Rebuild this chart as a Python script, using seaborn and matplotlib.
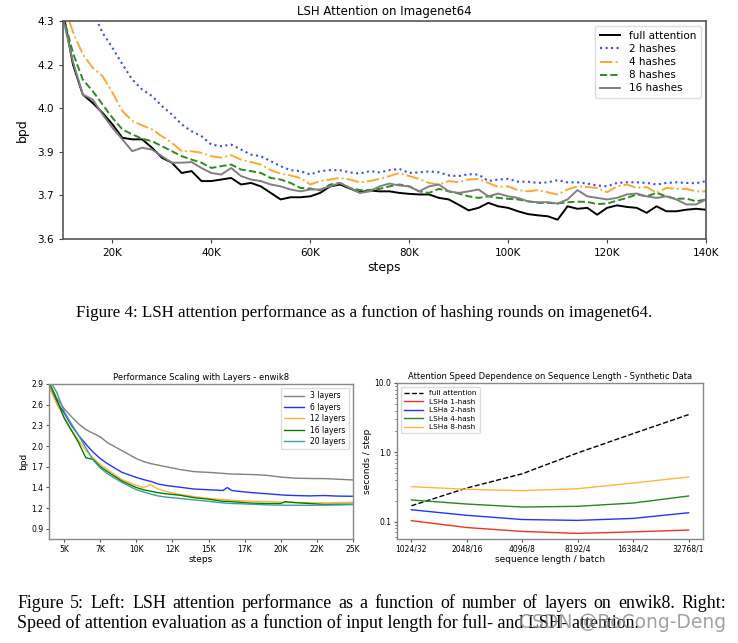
import numpy as np
import pandas as pd
import matplotlib
matplotlib.use('Agg')
import matplotlib.pyplot as plt
import matplotlib.ticker as mticker
import seaborn as sns

# ---- Figure 4 : LSH attention on imagenet64 (bpd vs steps) ----
img_steps = np.arange(10000, 140001, 2000)
img_full = [4.33, 4.161, 4.064, 4.037, 4.005, 3.968, 3.925, 3.920, 3.920, 3.893, 3.861, 3.845, 3.812,
            3.818, 3.786, 3.786, 3.791, 3.796, 3.775, 3.780, 3.769, 3.748, 3.727, 3.734, 3.734, 3.737,
            3.748, 3.769, 3.775, 3.762, 3.750, 3.756, 3.753, 3.753, 3.748, 3.745, 3.743, 3.743, 3.732,
            3.727, 3.710, 3.692, 3.700, 3.716, 3.705, 3.700, 3.689, 3.680, 3.676, 3.673, 3.662, 3.705,
            3.697, 3.700, 3.678, 3.700, 3.708, 3.703, 3.700, 3.684, 3.705, 3.689, 3.689, 3.694, 3.697, 3.694]
img_2h = [4.60, 4.48, 4.40, 4.33, 4.262, 4.214, 4.161, 4.112, 4.080, 4.059, 4.027, 4.000, 3.968,
          3.946, 3.930, 3.903, 3.898, 3.903, 3.887, 3.871, 3.866, 3.850, 3.834, 3.821, 3.818, 3.807,
          3.818, 3.821, 3.821, 3.814, 3.810, 3.818, 3.814, 3.821, 3.825, 3.812, 3.814, 3.817, 3.814,
          3.804, 3.802, 3.808, 3.807, 3.786, 3.791, 3.793, 3.784, 3.784, 3.780, 3.782, 3.789, 3.782,
          3.782, 3.778, 3.772, 3.769, 3.780, 3.782, 3.782, 3.780, 3.775, 3.780, 3.782, 3.780, 3.779, 3.786]
img_4h = [4.36, 4.265, 4.193, 4.150, 4.123, 4.070, 4.011, 3.979, 3.965, 3.952, 3.930, 3.909, 3.882,
          3.882, 3.877, 3.866, 3.861, 3.869, 3.855, 3.847, 3.839, 3.821, 3.810, 3.804, 3.796, 3.775,
          3.786, 3.791, 3.796, 3.791, 3.782, 3.786, 3.793, 3.802, 3.812, 3.802, 3.793, 3.780, 3.775,
          3.786, 3.782, 3.791, 3.793, 3.780, 3.767, 3.769, 3.757, 3.753, 3.757, 3.750, 3.743, 3.759,
          3.769, 3.767, 3.764, 3.750, 3.769, 3.775, 3.764, 3.767, 3.748, 3.764, 3.761, 3.761, 3.753, 3.753]
img_8h = [4.32, 4.198, 4.112, 4.075, 4.032, 3.989, 3.952, 3.936, 3.922, 3.914, 3.898, 3.882, 3.866,
          3.855, 3.845, 3.828, 3.834, 3.839, 3.823, 3.818, 3.812, 3.796, 3.791, 3.780, 3.764, 3.762,
          3.756, 3.775, 3.780, 3.764, 3.757, 3.757, 3.761, 3.769, 3.775, 3.769, 3.753, 3.748, 3.761,
          3.753, 3.746, 3.737, 3.732, 3.737, 3.732, 3.729, 3.727, 3.721, 3.716, 3.716, 3.714, 3.718,
          3.720, 3.719, 3.712, 3.714, 3.723, 3.732, 3.743, 3.737, 3.748, 3.737, 3.729, 3.730, 3.721, 3.727]
img_16h = [4.31, 4.17, 4.064, 4.048, 4.000, 3.957, 3.920, 3.882, 3.893, 3.887, 3.866, 3.845, 3.845,
           3.847, 3.828, 3.812, 3.807, 3.828, 3.802, 3.791, 3.786, 3.775, 3.769, 3.759, 3.753, 3.759,
           3.759, 3.769, 3.780, 3.764, 3.748, 3.753, 3.769, 3.778, 3.772, 3.769, 3.753, 3.769, 3.775,
           3.753, 3.748, 3.753, 3.759, 3.737, 3.746, 3.737, 3.732, 3.721, 3.718, 3.718, 3.714, 3.727,
           3.757, 3.737, 3.732, 3.727, 3.732, 3.743, 3.746, 3.737, 3.732, 3.737, 3.727, 3.711, 3.711, 3.727]

# ---- Figure 5 left : enwik8, number of layers ----
enw_steps = [4000, 4500, 5000, 5500, 6000, 6500, 7000, 7500, 8000, 9000, 10000, 10500, 11000, 11500,
             12000, 13000, 14000, 15000, 16000, 16300, 16600, 17000, 18000, 19000, 20000, 20300, 21000,
             22000, 23000, 24000, 25000]
enw_3 = [2.90, 2.70, 2.56, 2.45, 2.35, 2.27, 2.22, 2.17, 2.09, 1.98, 1.87, 1.83, 1.80, 1.78, 1.76, 1.72,
         1.69, 1.68, 1.666, 1.66, 1.657, 1.655, 1.65, 1.64, 1.615, 1.61, 1.60, 1.595, 1.594, 1.585, 1.575]
enw_6 = [2.84, 2.65, 2.50, 2.33, 2.19, 2.07, 1.96, 1.87, 1.80, 1.68, 1.61, 1.58, 1.555, 1.52, 1.50, 1.475,
         1.45, 1.44, 1.43, 1.47, 1.43, 1.42, 1.40, 1.385, 1.37, 1.365, 1.36, 1.355, 1.36, 1.352, 1.35]
enw_12 = [2.84, 2.62, 2.44, 2.27, 2.12, 1.98, 1.88, 1.79, 1.72, 1.58, 1.50, 1.47, 1.51, 1.45, 1.42, 1.375,
          1.345, 1.32, 1.305, 1.30, 1.295, 1.29, 1.282, 1.278, 1.27, 1.268, 1.265, 1.26, 1.258, 1.262, 1.267]
enw_16 = [2.90, 2.68, 2.43, 2.26, 2.09, 1.88, 1.86, 1.76, 1.69, 1.56, 1.47, 1.44, 1.42, 1.40, 1.385, 1.365,
          1.33, 1.31, 1.28, 1.28, 1.275, 1.27, 1.255, 1.25, 1.25, 1.275, 1.262, 1.25, 1.237, 1.24, 1.24]
enw_20 = [2.95, 2.78, 2.52, 2.35, 2.19, 2.02, 1.85, 1.74, 1.66, 1.54, 1.44, 1.41, 1.38, 1.355, 1.34, 1.32,
          1.30, 1.28, 1.258, 1.255, 1.25, 1.248, 1.24, 1.232, 1.228, 1.226, 1.226, 1.225, 1.228, 1.23, 1.235]
enw_yticklabels = ['0.9', '1.2', '1.4', '1.7', '2.0', '2.3', '2.6', '2.9']

# ---- Figure 5 right : speed vs sequence length ----
seq_labels = ['1024/32', '2048/16', '4096/8', '8192/4', '16384/2', '32768/1']
speed_full = [0.169, 0.305, 0.49, 0.98, 1.86, 3.5]
speed_1h = [0.103, 0.082, 0.072, 0.0675, 0.071, 0.0754]
speed_2h = [0.148, 0.123, 0.107, 0.104, 0.111, 0.134]
speed_4h = [0.205, 0.179, 0.162, 0.166, 0.185, 0.234]
speed_8h = [0.319, 0.292, 0.279, 0.298, 0.36, 0.44]

cap4 = 'Figure 4: LSH attention performance as a function of hashing rounds on imagenet64.'
cap5_line1 = 'Figure 5: Left: LSH attention performance as a function of number of layers on enwik8. Right:'
cap5_line2 = 'Speed of attention evaluation as a function of input length for full- and LSH- attention.'
watermark = 'CSDN @BoCong-Deng'

plt.rcParams['font.family'] = ['DejaVu Sans']
fig = plt.figure(figsize=(7.38, 6.43), dpi=100)
fig.patch.set_facecolor('white')
W, H = 738, 643

# top chart
ax1 = fig.add_axes([63 / W, 1 - 239 / H, 643 / W, 218 / H])
top_series = [
    ('full attention', img_full, 'black', '-', 1.4),
    ('2 hashes', img_2h, '#3b4cff', ':', 1.5),
    ('4 hashes', img_4h, '#ffa632', '-.', 1.4),
    ('8 hashes', img_8h, '#2e8b22', '--', 1.4),
    ('16 hashes', img_16h, 'grey', '-', 1.4),
]
for name, vals, col, ls, lw in top_series:
    sns.lineplot(x=img_steps, y=vals, ax=ax1, color=col, linestyle=ls, linewidth=lw, label=name)
ax1.set_xlim(10000, 140000)
ax1.set_ylim(3.6, 4.3)
ax1.set_xticks(np.arange(20000, 140001, 20000))
ax1.xaxis.set_major_formatter(mticker.FuncFormatter(lambda v, p: f'{int(v / 1000)}K'))
ax1.set_yticks(np.linspace(3.6, 4.3, 6))
ax1.yaxis.set_major_formatter(mticker.FormatStrFormatter('%.1f'))
ax1.tick_params(labelsize=7.5, length=3, color='#444')
ax1.set_title('LSH Attention on Imagenet64', fontsize=8.5, pad=4)
ax1.set_xlabel('steps', fontsize=9, labelpad=2)
ax1.set_ylabel('bpd', fontsize=9, labelpad=6)
for s in ax1.spines.values():
    s.set_color('#555')
    s.set_linewidth(1.2)
ax1.legend(loc='upper right', fontsize=7.5, handlelength=2.0, borderpad=0.45, labelspacing=0.3,
           framealpha=1, edgecolor='#ddd', fancybox=True)

# bottom left chart
ax2 = fig.add_axes([49 / W, 1 - 539 / H, 304 / W, 155 / H])
layer_series = [
    ('3 layers', enw_3, 'grey'),
    ('6 layers', enw_6, '#2233ff'),
    ('12 layers', enw_12, '#ffb43c'),
    ('16 layers', enw_16, 'green'),
    ('20 layers', enw_20, '#3f9c9c'),
]
for name, vals, col in layer_series:
    sns.lineplot(x=enw_steps, y=vals, ax=ax2, color=col, linewidth=1.0, label=name)
ax2.set_xlim(3950, 25000)
ax2.set_ylim(0.76, 2.9)
ax2.set_xticks(np.linspace(5000, 25000, 9))
ax2.xaxis.set_major_formatter(mticker.FuncFormatter(lambda v, p: f'{int(v / 1000)}K'))
ax2.set_yticks(np.linspace(0.9, 2.9, 8))
ax2.set_yticklabels(enw_yticklabels)
ax2.tick_params(labelsize=5.5, length=2, color='#555', pad=2)
ax2.set_title('Performance Scaling with Layers - enwik8', fontsize=6, pad=3)
ax2.set_xlabel('steps', fontsize=6.5, labelpad=1)
ax2.set_ylabel('bpd', fontsize=6.5, labelpad=2)
for s in ax2.spines.values():
    s.set_color('#888')
    s.set_linewidth(1.0)
ax2.legend(loc='upper right', fontsize=5.5, handlelength=2.6, borderpad=0.45, labelspacing=0.32,
           framealpha=1, edgecolor='#ddd')

# bottom right chart
ax3 = fig.add_axes([397 / W, 1 - 539 / H, 306 / W, 156 / H])
seq_pos = list(range(len(seq_labels)))
speed_series = [
    ('full attention', speed_full, 'black', '--'),
    ('LSHa 1-hash', speed_1h, '#ee3322', '-'),
    ('LSHa 2-hash', speed_2h, '#2233ff', '-'),
    ('LSHa 4-hash', speed_4h, '#228822', '-'),
    ('LSHa 8-hash', speed_8h, '#ffb43c', '-'),
]
for name, vals, col, ls in speed_series:
    sns.lineplot(x=seq_pos, y=vals, ax=ax3, color=col, linestyle=ls, linewidth=1.0, label=name)
ax3.set_yscale('log')
ax3.set_ylim(0.056, 10)
ax3.set_xlim(-0.26, 5.26)
ax3.set_xticks(seq_pos)
ax3.set_xticklabels(seq_labels)
ax3.yaxis.set_major_locator(mticker.FixedLocator([0.1, 1.0, 10.0]))
ax3.yaxis.set_major_formatter(mticker.FixedFormatter(['0.1', '1.0', '10.0']))
ax3.yaxis.set_minor_formatter(mticker.NullFormatter())
ax3.tick_params(labelsize=5.5, length=2, color='#555', pad=2)
ax3.tick_params(which='minor', length=1.2, color='#555')
ax3.set_title('Attention Speed Dependence on Sequence Length - Synthetic Data', fontsize=6, pad=3)
ax3.set_xlabel('sequence length / batch', fontsize=6.5, labelpad=1)
ax3.set_ylabel('seconds / step', fontsize=6.5, labelpad=2)
for s in ax3.spines.values():
    s.set_color('#888')
    s.set_linewidth(1.0)
ax3.legend(loc='upper left', fontsize=5.3, handlelength=2.6, borderpad=0.45, labelspacing=0.32,
           framealpha=1, edgecolor='#ddd')

# captions
serif = ['Liberation Serif', 'DejaVu Serif']
fig.text(364 / W, 1 - 313 / H, cap4, ha='center', va='center', fontsize=12.2, family=serif)


def justified(line, y, x0, x1, **kw):
    # spread the words of one line between x0 and x1 (pixels)
    words = line.split()
    texts = [fig.text(0, y, w, ha='left', va='center', **kw) for w in words]
    fig.canvas.draw()
    r = fig.canvas.get_renderer()
    widths = [t.get_window_extent(r).width for t in texts]
    gap = ((x1 - x0) - sum(widths)) / (len(words) - 1)
    x = x0
    for t, w in zip(texts, widths):
        t.set_x(x / W)
        x += w + gap


justified(cap5_line1, 1 - 603 / H, 17, 726, fontsize=12.9, family=serif)
fig.text(17 / W, 1 - 623 / H, cap5_line2, ha='left', va='center', fontsize=12.9, family=serif)
fig.text(726 / W, 1 - 623 / H, watermark, ha='right', va='center', fontsize=13.5,
         color='#8a8a8a', alpha=0.8, family=['DejaVu Sans'])

fig.savefig('out.png', dpi=100, facecolor='white')
